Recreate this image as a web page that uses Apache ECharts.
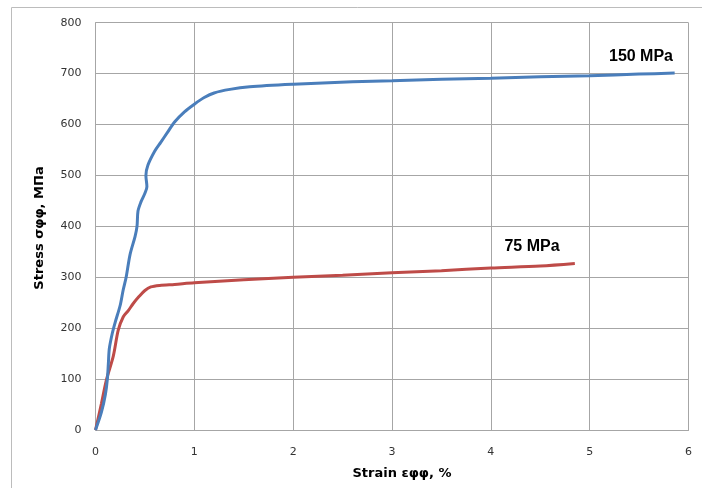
<!DOCTYPE html>
<html>
<head>
<meta charset="utf-8">
<script src="https://cdn.jsdelivr.net/npm/echarts@6/dist/echarts.min.js"></script>
<style>html,body{margin:0;padding:0;background:#fff}#c{width:702px;height:488px}</style>
</head>
<body>
<div id="c"></div>
<script>
// Strain (%) and stress (MPa) points
const blueStrain = [0,0.06,0.1,0.12,0.13,0.14,0.17,0.2,0.25,0.28,0.31,0.35,0.4,0.42,0.43,0.46,0.5,0.52,0.51,0.53,0.6,0.66,0.73,0.8,0.9,1.0,1.1,1.2,1.36,1.56,2.0,2.6,3.0,3.5,4.0,4.5,5.0,5.5,5.86];
const blueStress = [0,35,70,100,130,160,190,212,245,275,300,345,380,400,430,448,465,478,500,520,548,565,585,605,625,640,653,662,669,674,679,684,686,689,691,694,696,699,701];
const redStrain = [0,0.06,0.11,0.18,0.23,0.28,0.33,0.38,0.44,0.5,0.56,0.65,0.8,1.0,1.5,2.0,2.5,3.0,3.5,4.0,4.5,4.85];
const redStress = [0,52,98,145,196,222,234,248,262,274,281,284,286,289,295,300,304,309,313,318,322,327];
const xTicks = [0,1,2,3,4,5,6];
const yTicks = [0,100,200,300,400,500,600,700,800];
const seriesNames = ['150 MPa','75 MPa'];
const xTitle = 'Strain εφφ, %';
const yTitle = 'Stress σφφ, МПа';

const zip = (a,b) => a.map((v,i)=>[v,b[i]]);
const chart = echarts.init(document.getElementById('c'));
const gridCol = '#a6a6a6';
chart.setOption({
  animation:false,
  grid:{left:95.5,right:13.5,top:22.7,bottom:58,containLabel:false},
  xAxis:{type:'value',min:xTicks[0],max:xTicks[xTicks.length-1],interval:1,
    axisLine:{lineStyle:{color:gridCol}},axisTick:{show:false},
    splitLine:{lineStyle:{color:gridCol}},
    axisLabel:{margin:17,color:'#333',fontFamily:'DejaVu Sans',fontSize:11}},
  yAxis:{type:'value',min:yTicks[0],max:yTicks[yTicks.length-1],interval:100,
    axisLine:{show:true,lineStyle:{color:gridCol}},axisTick:{show:false},
    splitLine:{lineStyle:{color:gridCol}},
    axisLabel:{margin:14,color:'#333',fontFamily:'DejaVu Sans',fontSize:11}},
  series:[
    {name:seriesNames[0],type:'line',data:zip(blueStrain,blueStress),showSymbol:false,smooth:0.3,
     lineStyle:{color:'#4a7ebb',width:3},z:3},
    {name:seriesNames[1],type:'line',data:zip(redStrain,redStress),showSymbol:false,smooth:0.3,
     lineStyle:{color:'#be4b48',width:3},z:2}
  ],
  graphic:[
    {type:'rect',shape:{x:11.5,y:7.5,width:720,height:500},style:{fill:null,stroke:'#bcbcbc',lineWidth:1},silent:true},
    {type:'text',x:402,y:474,style:{text:xTitle,font:'bold 13px "DejaVu Sans"',fill:'#000',align:'center',verticalAlign:'middle'}},
    {type:'text',x:40,y:228,rotation:Math.PI/2,style:{text:yTitle,font:'bold 13px "DejaVu Sans"',fill:'#000',align:'center',verticalAlign:'middle'}},
    {type:'text',x:641,y:57,style:{text:seriesNames[0],font:'bold 16px "Liberation Sans"',fill:'#000',align:'center',verticalAlign:'middle'}},
    {type:'text',x:532,y:247,style:{text:seriesNames[1],font:'bold 16px "Liberation Sans"',fill:'#000',align:'center',verticalAlign:'middle'}}
  ]
});
</script>
</body>
</html>
